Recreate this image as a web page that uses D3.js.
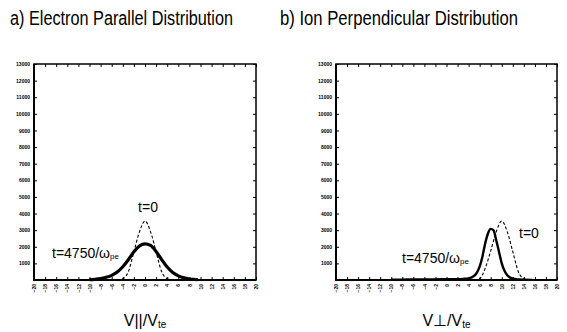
<!DOCTYPE html>
<html>
<head>
<meta charset="utf-8">
<script src="https://cdn.jsdelivr.net/npm/d3@7"></script>
<style>
  body { margin: 0; background: #fff; }
  svg { display: block; }
  .narrow { font-family: "Liberation Sans", Arial, sans-serif; }
  .lbl { font-family: "Liberation Sans", Arial, sans-serif; }
  .tick text { font-family: "Liberation Sans", Arial, sans-serif; font-weight: bold; }
</style>
</head>
<body>
<svg id="chart" width="567" height="332"></svg>
<script>
// x tick values and y tick values
const xTicks = d3.range(-20, 21, 2);
const yTicks = [1000, 2000, 3000, 4000, 5000, 6000, 7000, 8000, 9000, 10000, 11000, 12000, 13000];

// a) electron parallel distribution
const elecX0 = [-5, -4, -3, -2, -1, 0, 1, 2, 3, 4, 5];
const elecF0 = [0, 80, 500, 1700, 2900, 3550, 2900, 1700, 500, 80, 0];
const elecX1 = [-10, -9, -8, -7, -6, -5, -4, -3, -2, -1, 0, 1, 2, 3, 4, 5, 6, 7, 8, 9, 9.5];
const elecF1 = [20, 40, 80, 160, 280, 480, 800, 1220, 1700, 2050, 2180, 2080, 1720, 1230, 780, 450, 250, 130, 60, 30, 20];

// b) ion perpendicular distribution
const ionX0 = [5, 6, 7, 8, 9, 10, 11, 12, 13, 14, 15];
const ionF0 = [0, 80, 700, 1750, 2900, 3550, 2900, 1700, 500, 80, 0];
const ionX1 = [-10, -8, -6, -4, -2, 0, 2, 3, 4, 5, 5.5, 6, 6.5, 7, 7.5, 8, 8.5, 9, 9.5, 10, 10.5, 11, 12, 13, 14, 15.5];
const ionF1 = [20, 25, 30, 35, 40, 45, 55, 70, 100, 250, 450, 800, 1400, 2200, 2800, 3080, 3000, 2400, 1700, 1000, 550, 280, 80, 35, 20, 10];

const svg = d3.select('#chart');

const panels = [
  { left: 34, right: 256, title: 'a)  Electron Parallel Distribution', titleX: 10, titleW: 223,
    x0: elecX0, f0: elecF0, x1: elecX1, f1: elecF1, w1: 3.2, sym: '||',
    t0: { x: 148, y: 212 }, t1: { x: 52, y: 258 } },
  { left: 336, right: 557, title: 'b)  Ion Perpendicular Distribution', titleX: 280, titleW: 238,
    x0: ionX0, f0: ionF0, x1: ionX1, f1: ionF1, w1: 2.4, sym: '\u22A5',
    t0: { x: 519, y: 238, anchor: 'start' }, t1: { x: 402, y: 263 } }
];

const plotTop = 64, plotBottom = 280;

panels.forEach(p => {
  const x = d3.scaleLinear().domain([-20, 20]).range([p.left, p.right]);
  const y = d3.scaleLinear().domain([0, 13000]).range([plotBottom, plotTop]);

  // title (condensed like the original)
  svg.append('text')
    .attr('class', 'narrow')
    .attr('x', p.titleX)
    .attr('y', 25)
    .attr('textLength', p.titleW)
    .attr('lengthAdjust', 'spacingAndGlyphs')
    .style('font-size', '19.5px')
    .text(p.title);

  // axes
  const gx = svg.append('g')
    .attr('transform', `translate(0,${plotBottom})`)
    .call(d3.axisBottom(x).tickValues(xTicks).tickSize(-3).tickSizeOuter(0).tickFormat(d3.format('d')));
  gx.selectAll('.tick text')
    .attr('transform', 'rotate(-90)')
    .attr('x', -4).attr('y', 0).attr('dy', '0.32em')
    .attr('text-anchor', 'end')
    .style('font-size', '5px');

  svg.append('g')
    .attr('transform', `translate(0,${plotTop})`)
    .call(d3.axisTop(x).tickValues(xTicks).tickSize(-3).tickSizeOuter(0).tickFormat(''));

  const gy = svg.append('g')
    .attr('transform', `translate(${p.left},0)`)
    .call(d3.axisLeft(y).tickValues(yTicks).tickSize(-3).tickSizeOuter(0).tickPadding(4).tickFormat(d3.format('d')));
  gy.selectAll('.tick text').style('font-size', '5px');

  svg.append('g')
    .attr('transform', `translate(${p.right},0)`)
    .call(d3.axisRight(y).tickValues(yTicks).tickSize(-3).tickSizeOuter(0).tickFormat(''));

  svg.selectAll('.domain').remove();

  // frame
  svg.append('rect')
    .attr('x', p.left).attr('y', plotTop)
    .attr('width', p.right - p.left).attr('height', plotBottom - plotTop)
    .attr('fill', 'none').attr('stroke', '#000').attr('stroke-width', 1.5);
  svg.append('path')
    .attr('d', `M${p.left},${plotTop}V${plotBottom}H${p.right}`)
    .attr('fill', 'none').attr('stroke', '#000').attr('stroke-width', 2);

  const line = d3.line().curve(d3.curveMonotoneX);

  // t=0 dashed
  svg.append('path')
    .datum(p.x0.map((v, i) => [x(v), y(p.f0[i])]))
    .attr('d', line)
    .attr('fill', 'none').attr('stroke', '#000').attr('stroke-width', 1.1)
    .attr('stroke-dasharray', '3,2');

  // t=4750 solid
  svg.append('path')
    .datum(p.x1.map((v, i) => [x(v), y(p.f1[i])]))
    .attr('d', line)
    .attr('fill', 'none').attr('stroke', '#000').attr('stroke-width', p.w1);

  // curve labels
  svg.append('text').attr('class', 'lbl')
    .attr('x', p.t0.x).attr('y', p.t0.y)
    .attr('text-anchor', p.t0.anchor || 'middle')
    .style('font-size', '14px')
    .text('t=0');

  const t1 = svg.append('text').attr('class', 'lbl')
    .attr('x', p.t1.x).attr('y', p.t1.y)
    .style('font-size', '14px');
  t1.append('tspan').text('t=4750/\u03C9');
  t1.append('tspan').attr('dy', 1).style('font-size', '8px').text('pe');

  // x axis title
  const xt = svg.append('text').attr('class', 'narrow')
    .attr('x', (p.left + p.right) / 2).attr('y', 326)
    .attr('text-anchor', 'middle')
    .style('font-size', '16px');
  xt.append('tspan').text(`V${p.sym}/V`);
  xt.append('tspan').attr('dy', 2).style('font-size', '10px').text('te');
});
</script>
</body>
</html>
